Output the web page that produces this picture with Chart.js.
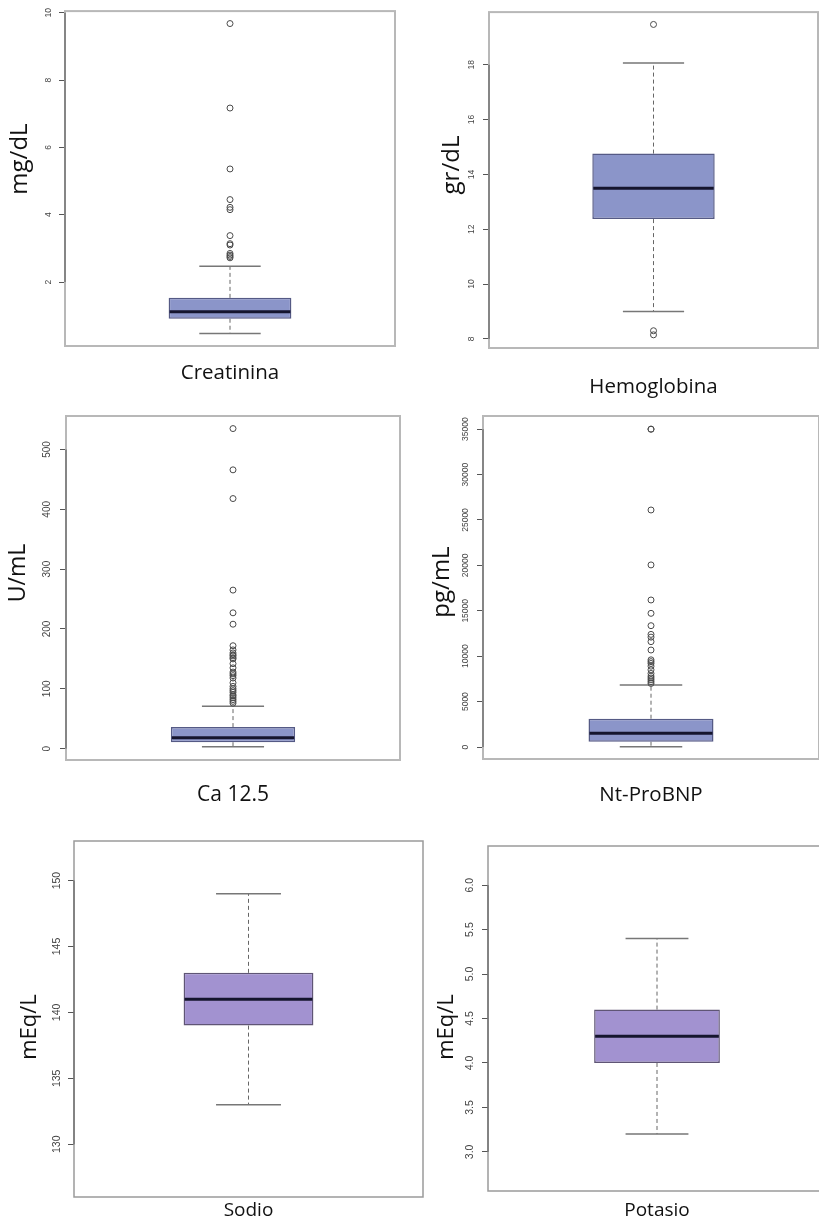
<!DOCTYPE html>
<html>
<head>
<meta charset="utf-8">
<script src="https://cdn.jsdelivr.net/npm/chart.js@4.4.1/dist/chart.umd.min.js"></script>
<style>
  body { margin: 0; background: #fff; width: 819px; height: 1225px; overflow: hidden; position: relative; }
  canvas { position: absolute; }
</style>
</head>
<body>
<canvas id="c0"></canvas>
<canvas id="c1"></canvas>
<canvas id="c2"></canvas>
<canvas id="c3"></canvas>
<canvas id="c4"></canvas>
<canvas id="c5"></canvas>
<script>
// Datos de los boxplots
const categorias = ['Creatinina', 'Hemoglobina', 'Ca 12.5', 'Nt-ProBNP', 'Sodio', 'Potasio'];
const unidades = ['mg/dL', 'gr/dL', 'U/mL', 'pg/mL', 'mEq/L', 'mEq/L'];
const minimos = [0.47, 9.0, 3.3, 30, 133, 3.2];
const cuartil1 = [0.91, 12.37, 10.7, 584, 139, 4.0];
const medianas = [1.12, 13.5, 18.4, 1508, 141, 4.3];
const cuartil3 = [1.53, 14.76, 36, 3117, 143, 4.6];
const maximos = [2.47, 18.06, 71, 6828, 149, 5.4];

const atipicosCreatinina = [9.68, 7.17, 5.36, 4.45, 4.22, 4.15, 3.38, 3.14, 3.1, 2.85, 2.8, 2.76, 2.72];
const atipicosHemoglobina = [19.47, 8.3, 8.15];
const atipicosCa125 = [535, 466, 418, 265, 227, 208, 172, 165, 160, 157, 155, 152, 150, 142, 135, 128, 125, 122, 118, 110, 104, 100, 97, 94, 90, 88, 85, 82, 79, 76];
const atipicosNtProBNP = [35000, 35000, 26100, 20050, 16190, 14720, 13360, 12400, 12100, 11600, 10680, 9600, 9400, 9200, 8900, 8500, 8100, 7800, 7600, 7400, 7200, 7000];
const atipicosSodio = [];
const atipicosPotasio = [];

const ticksCreatinina = [2, 4, 6, 8, 10];
const ticksHemoglobina = [8, 10, 12, 14, 16, 18];
const ticksCa125 = [0, 100, 200, 300, 400, 500];
const ticksNtProBNP = [0, 5000, 10000, 15000, 20000, 25000, 30000, 35000];
const ticksSodio = [130, 135, 140, 145, 150];
const ticksPotasio = [3.0, 3.5, 4.0, 4.5, 5.0, 5.5, 6.0];

const ejeMin = [0.1, 7.67, -19, -1320, 126, 2.56];
const ejeMax = [10.05, 19.92, 556, 36450, 153, 6.44];
const decimales = [0, 0, 0, 0, 0, 1];

const atipicos = [atipicosCreatinina, atipicosHemoglobina, atipicosCa125, atipicosNtProBNP, atipicosSodio, atipicosPotasio];
const ticksY = [ticksCreatinina, ticksHemoglobina, ticksCa125, ticksNtProBNP, ticksSodio, ticksPotasio];

// Posicion y estilo de cada panel
const azul = { relleno: '#8b95c9', borde: '#555a85', marco: '#b8b8b8', grosor: 2 };
const lila = { relleno: '#a292d0', borde: '#5f5575', marco: '#9a9a9a', grosor: 1.5 };
const paneles = [
  { left: 0,   top: 0,   w: 400, h: 395, yW: 65, padTop: 8,  xH: 49, tickFont: 8.5, tickPad: 6,  catSize: 20.5, catPad: 15,  ySize: 24, yX: 20,  yY: 159,  col: azul },
  { left: 410, top: 0,   w: 413, h: 400, yW: 79, padTop: 10, xH: 52, tickFont: 8.5, tickPad: 7,  catSize: 20.5, catPad: 27,  ySize: 24, yX: 452, yY: 165,  col: azul },
  { left: 0,   top: 400, w: 405, h: 405, yW: 66, padTop: 16, xH: 45, tickFont: 10,  tickPad: 4,  catSize: 21,   catPad: 22,  ySize: 23, yX: 18,  yY: 573,  col: azul },
  { left: 410, top: 400, w: 414, h: 405, yW: 73, padTop: 16, xH: 46, tickFont: 8.5, tickPad: 0,  catSize: 20.5, catPad: 24,  ySize: 24, yX: 442, yY: 582,  col: azul },
  { left: 0,   top: 830, w: 425, h: 395, yW: 74, padTop: 11, xH: 28, tickFont: 10.5, tickPad: 2, catSize: 19,   catPad: 2,   ySize: 22, yX: 30,  yY: 1027, col: lila },
  { left: 410, top: 830, w: 418, h: 395, yW: 78, padTop: 16, xH: 34, tickFont: 10.5, tickPad: 5, catSize: 19,   catPad: 8,   ySize: 22, yX: 447, yY: 1027, col: lila }
];

const cajaPlugin = {
  id: 'caja',
  beforeDatasetsDraw(chart, args, o) {
    const { ctx, scales: { x, y } } = chart;
    const barra = chart.getDatasetMeta(0).data[0];
    const cx = x.getPixelForValue(0);
    const w = barra.width / 4;
    const yMax = y.getPixelForValue(o.max), yMin = y.getPixelForValue(o.min);
    ctx.save();
    ctx.strokeStyle = '#666';
    ctx.lineWidth = 1;
    ctx.setLineDash([4, 3]);
    ctx.beginPath();
    ctx.moveTo(cx, y.getPixelForValue(o.q3)); ctx.lineTo(cx, yMax);
    ctx.moveTo(cx, y.getPixelForValue(o.q1)); ctx.lineTo(cx, yMin);
    ctx.stroke();
    ctx.setLineDash([]);
    ctx.strokeStyle = '#777';
    ctx.lineWidth = 1.5;
    ctx.beginPath();
    ctx.moveTo(cx - w, yMax); ctx.lineTo(cx + w, yMax);
    ctx.moveTo(cx - w, yMin); ctx.lineTo(cx + w, yMin);
    ctx.stroke();
    ctx.restore();
  },
  afterDatasetsDraw(chart, args, o) {
    const { ctx, scales: { x, y } } = chart;
    const barra = chart.getDatasetMeta(0).data[0];
    const cx = x.getPixelForValue(0);
    const ym = y.getPixelForValue(o.med);
    ctx.save();
    ctx.strokeStyle = '#15152e';
    ctx.lineWidth = 3;
    ctx.beginPath();
    ctx.moveTo(cx - barra.width / 2 + 1, ym); ctx.lineTo(cx + barra.width / 2 - 1, ym);
    ctx.stroke();
    ctx.restore();
  },
  afterDraw(chart, args, o) {
    const { ctx, chartArea: a, scales: { y } } = chart;
    ctx.save();
    // marco
    ctx.strokeStyle = o.marco;
    ctx.lineWidth = o.grosor;
    ctx.strokeRect(a.left, a.top, a.right - a.left, a.bottom - a.top);
    // linea del eje
    const t = y.ticks;
    ctx.strokeStyle = '#555';
    ctx.lineWidth = 1;
    ctx.beginPath();
    ctx.moveTo(a.left, y.getPixelForValue(t[0].value));
    ctx.lineTo(a.left, y.getPixelForValue(t[t.length - 1].value));
    ctx.stroke();
    // titulo del eje y
    ctx.translate(o.tx, o.ty);
    ctx.rotate(-Math.PI / 2);
    ctx.fillStyle = '#111';
    ctx.font = o.tSize + 'px "Open Sans"';
    ctx.textAlign = 'center';
    ctx.textBaseline = 'middle';
    ctx.fillText(o.titulo, 0, 0);
    ctx.restore();
  }
};

categorias.forEach((cat, i) => {
  const p = paneles[i];
  const canvas = document.getElementById('c' + i);
  canvas.width = p.w;
  canvas.height = p.h;
  canvas.style.left = p.left + 'px';
  canvas.style.top = p.top + 'px';

  new Chart(canvas.getContext('2d'), {
    type: 'bar',
    data: {
      labels: [cat],
      datasets: [{
        data: [[cuartil1[i], cuartil3[i]]],
        backgroundColor: p.col.relleno,
        borderColor: p.col.borde,
        borderWidth: 1.5,
        borderSkipped: false,
        barPercentage: 0.372,
        categoryPercentage: 1
      }, {
        type: 'scatter',
        data: atipicos[i].map(v => ({ x: cat, y: v })),
        pointStyle: 'circle',
        radius: 3,
        backgroundColor: 'rgba(0,0,0,0)',
        borderColor: '#4a4a4a',
        borderWidth: 1
      }]
    },
    options: {
      responsive: false,
      animation: false,
      layout: { padding: { left: 0, top: p.padTop, right: 2, bottom: 0 } },
      plugins: {
        legend: { display: false },
        tooltip: { enabled: false },
        caja: {
          min: minimos[i], q1: cuartil1[i], med: medianas[i], q3: cuartil3[i], max: maximos[i],
          marco: p.col.marco, grosor: p.col.grosor,
          titulo: unidades[i], tSize: p.ySize, tx: p.yX - p.left, ty: p.yY - p.top
        }
      },
      scales: {
        x: {
          type: 'category',
          grid: { display: false, drawTicks: false },
          border: { display: false },
          ticks: { padding: p.catPad, color: '#111', maxRotation: 0, autoSkip: false, font: { family: 'Open Sans', size: p.catSize } },
          afterFit: s => { s.height = p.xH; }
        },
        y: {
          min: ejeMin[i],
          max: ejeMax[i],
          afterBuildTicks: s => { s.ticks = ticksY[i].map(v => ({ value: v })); },
          grid: { drawOnChartArea: false, tickLength: 6, color: '#555' },
          border: { display: false },
          ticks: {
            minRotation: 90, maxRotation: 90, crossAlign: 'center', padding: p.tickPad, autoSkip: false,
            color: '#444', font: { family: 'Liberation Sans', size: p.tickFont },
            callback: v => v.toFixed(decimales[i])
          },
          afterFit: s => { s.width = p.yW; }
        }
      }
    },
    plugins: [cajaPlugin]
  });
});
</script>
</body>
</html>
